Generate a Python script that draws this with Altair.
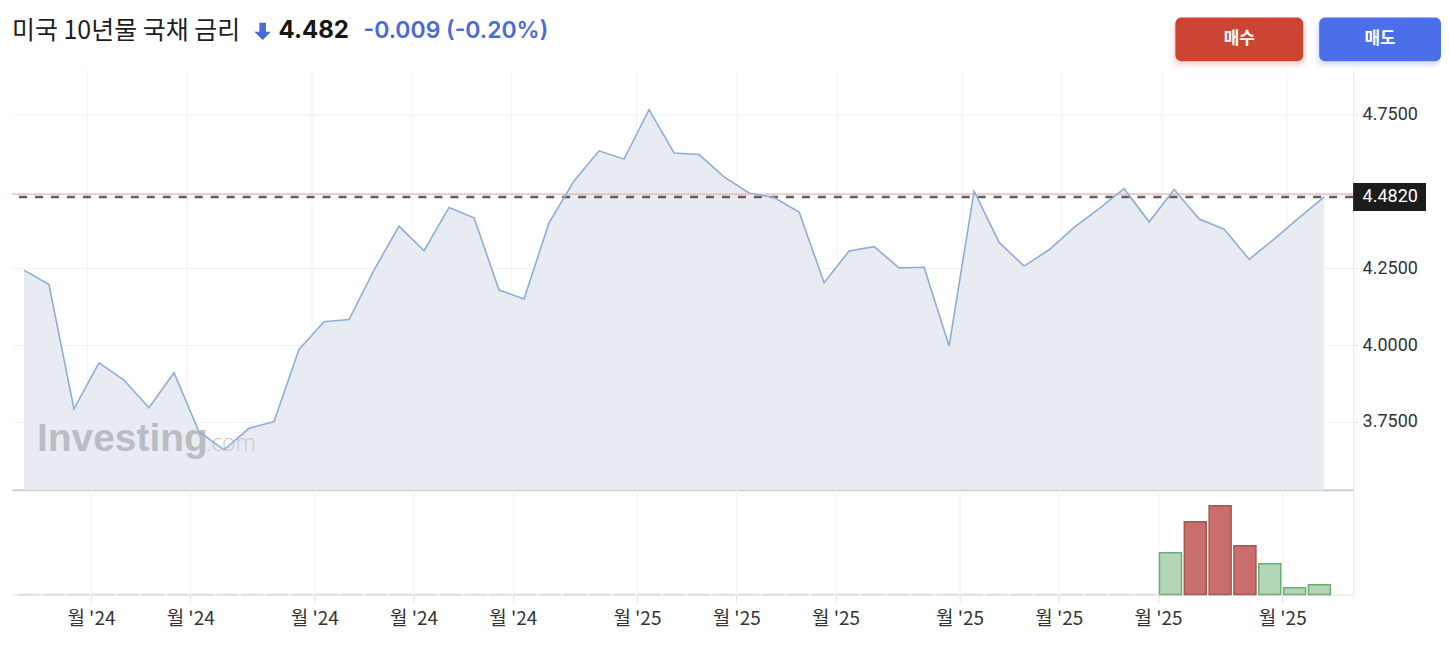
import json
import altair as alt
import pandas as pd

# ---------------- data ----------------
weeks = list(range(53))
yields = [4.244, 4.197, 3.792, 3.942, 3.886, 3.796, 3.910, 3.718, 3.659, 3.729,
          3.751, 3.986, 4.076, 4.083, 4.244, 4.387, 4.307, 4.448, 4.414, 4.179,
          4.150, 4.398, 4.534, 4.632, 4.605, 4.766, 4.625, 4.620, 4.547, 4.495,
          4.480, 4.433, 4.203, 4.306, 4.320, 4.251, 4.253, 3.997, 4.501, 4.334,
          4.257, 4.310, 4.383, 4.444, 4.509, 4.401, 4.506, 4.410, 4.377, 4.279,
          4.345, 4.415, 4.482]
vol_weeks = [46, 47, 48, 49, 50, 51, 52]
vol_values = [42, 73, 89, 49, 31, 7, 10]
vol_dir = ["up", "down", "down", "down", "up", "up", "up"]
tick_pos = [2.5, 6.5, 11.5, 15.5, 19.5, 24.5, 28.5, 32.5, 37.5, 41.5, 45.5, 50.5]
tick_labels = ["월 '24", "월 '24", "월 '24", "월 '24", "월 '24",
               "월 '25", "월 '25", "월 '25", "월 '25", "월 '25", "월 '25", "월 '25"]
y_ticks = [3.75, 4.0, 4.25, 4.75]
last_value = 4.482
prev_close = 4.491
title_text = "미국 10년물 국채 금리"
price_text = "4.482"
change_text = "-0.009 (-0.20%)"
buy_text = "매수"
sell_text = "매도"

# ---------------- layout ----------------
W = 1343
H_MAIN = 420
H_VOL = 105
RIGHT_LIMIT = 1431
x_dom = [-0.479, 53.158]
y_dom = [3.529, 4.894]
vol_dom = [0, 105]

price = pd.DataFrame({"week": weeks, "yield": yields})
vmap = {w: (v, d) for w, v, d in zip(vol_weeks, vol_values, vol_dir)}
fill_map = {"up": "#b4d6b8", "down": "#c96e6c", "none": "#ffffff"}
stroke_map = {"up": "#6dad73", "down": "#a25553", "none": "#d9dde3"}
vol = pd.DataFrame({
    "week": weeks,
    "volume": [vmap.get(w, (0, "none"))[0] for w in weeks],
    "dir": [vmap.get(w, (0, "none"))[1] for w in weeks],
})
vol["fill"] = vol["dir"].map(fill_map)
vol["stroke"] = vol["dir"].map(stroke_map)

xs = alt.Scale(domain=x_dom, nice=False, zero=False)
ys = alt.Scale(domain=y_dom, nice=False, zero=False)
vs = alt.Scale(domain=vol_dom, nice=False, zero=True)

label_expr = "{}[indexof({}, datum.value)]".format(
    json.dumps(tick_labels, ensure_ascii=False), json.dumps(tick_pos))

main_x_axis = alt.Axis(values=tick_pos, grid=True, gridColor="#f1f2f5", labels=False,
                       ticks=False, domain=True, domainColor="#cbcfd5", domainWidth=2,
                       title=None)
main_y_axis = alt.Axis(orient="right", values=y_ticks, format=".4f", grid=True,
                       gridColor="#f1f2f5", labelFont="Roboto", labelFontSize=18,
                       labelColor="#333333", domainColor="#e2e5ea", tickColor="#e2e5ea",
                       tickSize=5, labelPadding=4, title=None)

X = alt.X("week:Q", scale=xs, axis=main_x_axis)

area = alt.Chart(price).mark_area(color="#e8ecf2", opacity=1).encode(
    x=X, y=alt.Y("yield:Q", scale=ys, axis=main_y_axis), y2=alt.Y2Datum(y_dom[0]))
line = alt.Chart(price).mark_line(color="#8daed5", strokeWidth=1.6).encode(
    x=X, y=alt.Y("yield:Q", scale=ys, axis=main_y_axis))

one = pd.DataFrame({"k": [0]})
prev_rule = alt.Chart(one).mark_rule(color="#f0b2b2", strokeWidth=1.3).encode(
    y=alt.YDatum(prev_close, type="quantitative", scale=ys, axis=main_y_axis))
last_rule = alt.Chart(one).mark_rule(color="#5e5e5e", strokeWidth=2.4, strokeDash=[8, 8]).encode(
    y=alt.YDatum(last_value, type="quantitative", scale=ys, axis=main_y_axis))

box = alt.Chart(one).mark_rect(color="#1c1c1c").encode(
    x=alt.value(W), x2=alt.value(W + 73),
    y=alt.YDatum(last_value + 0.0455, type="quantitative", scale=ys, axis=main_y_axis),
    y2=alt.Y2Datum(last_value - 0.0455))
box_text = alt.Chart(pd.DataFrame({"t": ["{:.4f}".format(last_value)]})).mark_text(
    align="left", baseline="middle", font="Roboto", fontSize=18, color="#ffffff").encode(
    x=alt.value(W + 9.5),
    y=alt.YDatum(last_value, type="quantitative", scale=ys, axis=main_y_axis),
    text="t:N")

wm1 = alt.Chart(pd.DataFrame({"t": ["Investing"]})).mark_text(
    align="left", baseline="alphabetic", font="Liberation Sans", fontWeight="bold",
    fontSize=39, color="#b9bcc1").encode(x=alt.value(25), y=alt.value(381), text="t:N")
wm2 = alt.Chart(pd.DataFrame({"t": [".com"]})).mark_text(
    align="left", baseline="alphabetic", font="Open Sans", fontWeight=300,
    fontSize=23, color="#c5c8cd").encode(x=alt.value(194), y=alt.value(381), text="t:N")

title = alt.Chart(pd.DataFrame({"t": [title_text]})).mark_text(
    align="left", baseline="middle", font="Noto Sans CJK KR", fontSize=25,
    color="#1e1e1e").encode(x=alt.value(0), y=alt.value(-39), text="t:N")
arrow = alt.Chart(one).mark_point(
    shape="M-0.38,-1 L0.38,-1 L0.38,0.05 L0.95,0.05 L0,1 L-0.95,0.05 L-0.38,0.05 Z",
    filled=True, size=300, color="#4a6ad6", opacity=1, strokeWidth=0).encode(
    x=alt.value(251), y=alt.value(-39))
price_t = alt.Chart(pd.DataFrame({"t": [price_text]})).mark_text(
    align="left", baseline="middle", font="Inter", fontWeight="bold", fontSize=24,
    color="#161616").encode(x=alt.value(267), y=alt.value(-39), text="t:N")
change_t = alt.Chart(pd.DataFrame({"t": [change_text]})).mark_text(
    align="left", baseline="middle", font="Inter", fontWeight=600, fontSize=23,
    color="#4a6ad6").encode(x=alt.value(352), y=alt.value(-39), text="t:N")


def button(x0, x1, color, shadow):
    layers = []
    for grow, op in [(5, 0.06), (3, 0.08), (1, 0.1)]:
        layers.append(alt.Chart(one).mark_rect(color=shadow, opacity=op, cornerRadius=8).encode(
            x=alt.value(x0 - grow), x2=alt.value(min(x1 + grow, RIGHT_LIMIT)),
            y=alt.value(-50), y2=alt.value(-9 + grow + 2)))
    layers.append(alt.Chart(one).mark_rect(color=color, cornerRadius=6).encode(
        x=alt.value(x0), x2=alt.value(x1), y=alt.value(-53), y2=alt.value(-9)))
    return layers


buy_layers = button(1165, 1293, "#cb4532", "#e0685a")
sell_layers = button(1309, RIGHT_LIMIT, "#4a6fe9", "#6d8cf0")
buy_t = alt.Chart(pd.DataFrame({"t": [buy_text]})).mark_text(
    align="center", baseline="middle", font="Noto Sans CJK KR", fontWeight="bold",
    fontSize=17, color="#ffffff").encode(x=alt.value(1229), y=alt.value(-31), text="t:N")
sell_t = alt.Chart(pd.DataFrame({"t": [sell_text]})).mark_text(
    align="center", baseline="middle", font="Noto Sans CJK KR", fontWeight="bold",
    fontSize=17, color="#ffffff").encode(x=alt.value(1370), y=alt.value(-31), text="t:N")

main = alt.layer(area, prev_rule, last_rule, wm1, wm2, line, box, box_text,
                 title, arrow, price_t, change_t, *buy_layers, *sell_layers, buy_t, sell_t
                 ).properties(width=W, height=H_MAIN)

vol_x_axis = alt.Axis(values=tick_pos, labelExpr=label_expr, grid=True, gridColor="#f1f2f5",
                      domainColor="#dfe2e7", tickColor="#dfe2e7", tickSize=8,
                      labelFont="Noto Sans CJK KR", labelFontSize=19, labelColor="#333333",
                      labelPadding=7, title=None)
vol_y_axis = alt.Axis(orient="right", labels=False, ticks=False, grid=False, domain=True,
                      domainColor="#e2e5ea", title=None)

bars = alt.Chart(vol).mark_bar(width=22, strokeWidth=1.5).encode(
    x=alt.X("week:Q", scale=xs, axis=vol_x_axis),
    y=alt.Y("volume:Q", scale=vs, axis=vol_y_axis),
    fill=alt.Fill("fill:N", scale=None),
    stroke=alt.Stroke("stroke:N", scale=None),
).properties(width=W, height=H_VOL)

chart = alt.vconcat(main, bars, spacing=0).resolve_scale(y="independent").properties(
    padding={"left": 2, "top": 9, "right": 0, "bottom": 4}
).configure_view(strokeWidth=0)

chart.save("out.html", embed_options={"renderer": "svg", "actions": False})
